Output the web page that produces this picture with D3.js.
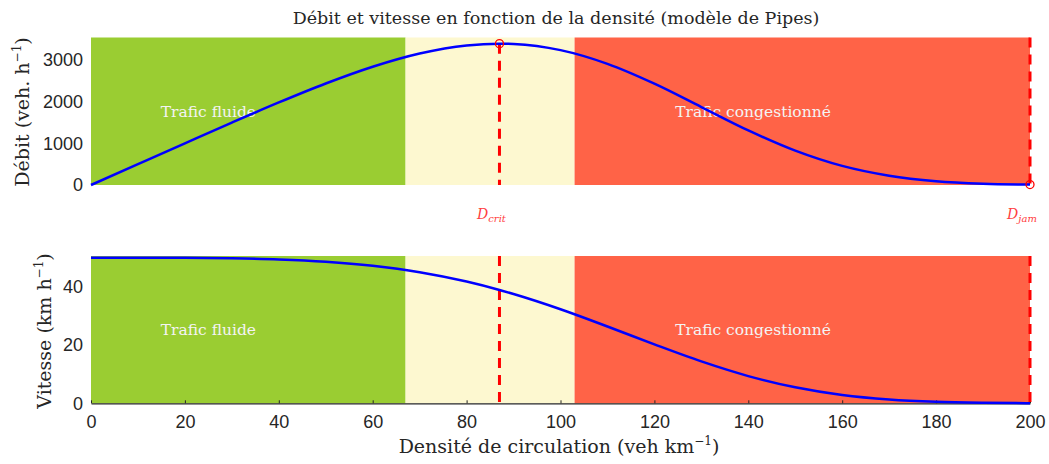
<!DOCTYPE html>
<html>
<head>
<meta charset="utf-8">
<script src="https://cdn.jsdelivr.net/npm/d3@7"></script>
<style>
  body { margin: 0; background: #fff; }
  .tick text { font-family: "Liberation Sans", Arial, sans-serif; font-size: 18px; fill: #262626; }
  .lbl { font-family: "DejaVu Serif", serif; font-size: 19px; fill: #262626; }
  .ttl { font-family: "DejaVu Serif", serif; font-size: 17.5px; fill: #262626; }
  .zone { font-family: "DejaVu Serif", serif; font-size: 15.5px; fill: #f4f4f4; }
</style>
</head>
<body>
<div id="chart"></div>
<script>
// densite (veh/km)
var densite = [0, 10, 20, 30, 40, 50, 60, 70, 80, 87, 90, 100, 110, 120, 130, 140, 150, 160, 170, 180, 190, 200];
// vitesse (km/h)
var vitesse = [50, 50, 49.97, 49.82, 49.44, 48.65, 47.25, 45.03, 41.82, 38.94, 37.55, 32.32, 26.39, 20.23, 14.38, 9.35, 5.49, 2.86, 1.31, 0.51, 0.17, 0.05];
// debit (veh/h)
var debit = [0, 500, 999, 1495, 1978, 2433, 2835, 3152, 3346, 3388, 3380, 3232, 2903, 2428, 1869, 1309, 824, 458, 223, 92, 32, 10];
// zones
var zones = [
  {from: 0, to: 67, color: "#9acd32", label: "Trafic fluide", at: 25},
  {from: 67, to: 103, color: "#fdf8d0", label: "", at: 0},
  {from: 103, to: 200, color: "#ff6347", label: "Trafic congestionné", at: 141}
];
var dCrit = 87, dJam = 200;
var xTicks = [0, 20, 40, 60, 80, 100, 120, 140, 160, 180, 200];
var debitTicks = [0, 1000, 2000, 3000];
var vitesseTicks = [0, 20, 40];

var W = 1049, H = 464;
var svg = d3.select("#chart").append("svg").attr("width", W).attr("height", H);

var x = d3.scaleLinear().domain([0, 200]).range([91, 1030]);
var yTop = d3.scaleLinear().domain([0, 3535]).range([185, 37.5]);
var yBot = d3.scaleLinear().domain([0, 50.6]).range([403.3, 256]);

var pts = densite.map(function(d, i){ return {k: d, v: vitesse[i], q: debit[i]}; });

function panel(y, key, ticks, showX) {
  var g = svg.append("g");
  g.selectAll("rect").data(zones).enter().append("rect")
    .attr("x", function(d){ return x(d.from); })
    .attr("width", function(d){ return x(d.to) - x(d.from); })
    .attr("y", y.range()[1])
    .attr("height", y.range()[0] - y.range()[1])
    .attr("fill", function(d){ return d.color; });

  g.selectAll(".zone").data(zones.filter(function(d){ return d.label; })).enter().append("text")
    .attr("class", "zone")
    .attr("x", function(d){ return x(d.at); })
    .attr("y", (y.range()[0] + y.range()[1]) / 2)
    .attr("dy", "0.35em")
    .attr("text-anchor", "middle")
    .text(function(d){ return d.label; });

  var ya = g.append("g").attr("transform", "translate(" + x(0) + ",0)")
    .call(d3.axisLeft(y).tickValues(ticks).tickFormat(d3.format("d")).tickSize(0).tickPadding(8));
  ya.select(".domain").remove();

  var xa = g.append("g").attr("transform", "translate(0," + y.range()[0] + ")")
    .call(d3.axisBottom(x).tickValues(xTicks).tickSizeInner(-3).tickSizeOuter(0).tickPadding(12));
  if (showX) {
    xa.select(".domain").attr("stroke", "#262626").attr("stroke-width", 1.2);
    xa.selectAll(".tick line").attr("stroke", "#262626");
  } else {
    xa.remove();
  }

  // dashed lines
  [dCrit, dJam].forEach(function(k, i){
    var p = pts.filter(function(d){ return d.k === k; })[0];
    var yStart = (key === "q" && i === 0) ? y(p.q) : y.range()[1];
    g.append("line")
      .attr("x1", x(k)).attr("x2", x(k))
      .attr("y1", yStart).attr("y2", y.range()[0])
      .attr("stroke", "#ff0000").attr("stroke-width", 3)
      .attr("stroke-dasharray", "10,7");
  });

  g.append("path").datum(pts)
    .attr("fill", "none").attr("stroke", "#0000ff").attr("stroke-width", 2.5)
    .attr("d", d3.line().x(function(d){ return x(d.k); }).y(function(d){ return y(d[key]); }).curve(d3.curveMonotoneX));
  return g;
}

var gTop = panel(yTop, "q", debitTicks, false);
var gBot = panel(yBot, "v", vitesseTicks, true);

// points critiques
gTop.selectAll(".pt").data(pts.filter(function(d){ return d.k === dCrit || d.k === dJam; })).enter().append("circle")
  .attr("cx", function(d){ return x(d.k); })
  .attr("cy", function(d){ return yTop(d.q); })
  .attr("r", 4).attr("fill", "none").attr("stroke", "#ff0000").attr("stroke-width", 1.3);

[{k: dCrit, sub: "crit"}, {k: dJam, sub: "jam"}].forEach(function(d){
  var t = svg.append("text").attr("x", x(d.k) - 8).attr("y", 219).attr("text-anchor", "middle")
    .attr("font-family", "DejaVu Serif, serif").attr("font-style", "italic")
    .attr("fill", "#ff4040").attr("font-size", 14);
  t.append("tspan").text("D");
  t.append("tspan").attr("font-size", 10).attr("dy", 3).text(d.sub);
});

// titres
svg.append("text").attr("class", "ttl").attr("x", 556).attr("y", 24).attr("text-anchor", "middle")
  .text("Débit et vitesse en fonction de la densité (modèle de Pipes)");

var t1 = svg.append("text").attr("class", "lbl").attr("text-anchor", "middle")
  .attr("transform", "translate(29,112) rotate(-90)");
t1.append("tspan").text("Débit (veh. h");
t1.append("tspan").attr("font-size", 12).attr("dy", -8).text("−1");
t1.append("tspan").attr("dy", 8).text(")");

var t2 = svg.append("text").attr("class", "lbl").attr("text-anchor", "middle")
  .attr("transform", "translate(51,331) rotate(-90)");
t2.append("tspan").text("Vitesse (km h");
t2.append("tspan").attr("font-size", 12).attr("dy", -8).text("−1");
t2.append("tspan").attr("dy", 8).text(")");

var t3 = svg.append("text").attr("class", "lbl").attr("text-anchor", "middle")
  .attr("x", 559).attr("y", 453);
t3.append("tspan").text("Densité de circulation (veh km");
t3.append("tspan").attr("font-size", 12).attr("dy", -8).text("−1");
t3.append("tspan").attr("dy", 8).text(")");
</script>
</body>
</html>
